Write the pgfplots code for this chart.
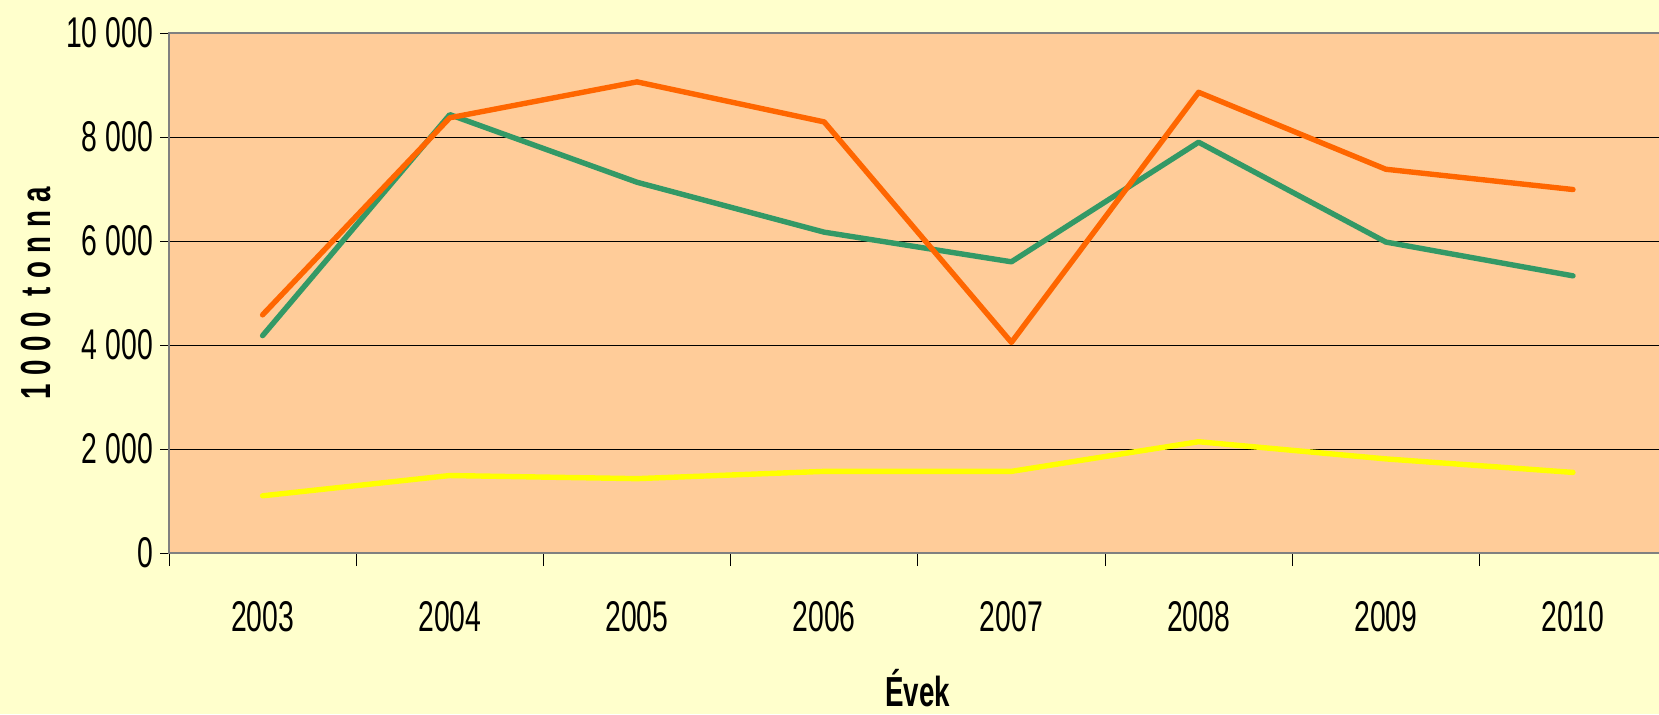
\documentclass[border=0pt]{standalone}
\usepackage{fontspec}
\setmainfont[FakeStretch=0.66]{Liberation Sans}
\usepackage{pgfplots}
\pgfplotsset{compat=1.18}
\definecolor{bg}{HTML}{FFFFCC}
\definecolor{plotbg}{HTML}{FFCC99}
\definecolor{lorange}{HTML}{FF6600}
\definecolor{lgreen}{HTML}{339966}
\definecolor{lyellow}{HTML}{FFFF00}
\definecolor{axgray}{HTML}{808080}
\begin{document}
\begin{tikzpicture}
\fill[bg] (0,0) rectangle (829.5pt,357pt);
\path[use as bounding box] (0,0) rectangle (829.5pt,357pt);
\clip (0,0) rectangle (829.5pt,357pt);
\begin{axis}[
  at={(84.5pt,80.5pt)}, anchor=south west, scale only axis,
  width=748.8pt, height=260pt,
  xmin=-0.5, xmax=7.5, ymin=0, ymax=10000,
  axis background/.style={fill=plotbg},
  xtick={0,1,2,3,4,5,6,7},
  xticklabels={2003,2004,2005,2006,2007,2008,2009,2010},
  minor xtick={-0.5,0.5,1.5,2.5,3.5,4.5,5.5,6.5,7.5},
  ytick={0,2000,4000,6000,8000,10000},
  yticklabels={0,2 000,4 000,6 000,8 000,10 000},
  scaled y ticks=false,
  tick pos=left,
  tick align=outside,
  major tick length=4.5pt, minor tick length=6.5pt,
  major x tick style={draw=none},
  tick style={black, line width=0.5pt},
  axis line style={axgray, line width=1pt},
  ymajorgrids, major grid style={black, line width=0.5pt},
  ticklabel style={font=\fontsize{21.5pt}{25pt}\selectfont},
  xticklabel style={yshift=-16pt},
  ylabel={1000 tonna},
  ylabel style={font=\bfseries\fontsize{21pt}{25pt}\selectfont\addfontfeatures{LetterSpace=20}, at={(axis description cs:-0.0888,0.5)}, anchor=center},
  xlabel={Évek},
  xlabel style={font=\bfseries\fontsize{21pt}{25pt}\selectfont, at={(axis description cs:0.5,-0.296)}, anchor=base},
]
\addplot[lyellow, line width=2.7pt, line cap=round, line join=round] coordinates {
(0,1100) (1,1490) (2,1430) (3,1570) (4,1570) (5,2140) (6,1810) (7,1550)};
\addplot[lgreen, line width=2.7pt, line cap=round, line join=round] coordinates {
(0,4180) (1,8430) (2,7130) (3,6170) (4,5600) (5,7900) (6,5980) (7,5330)};
\addplot[lorange, line width=2.7pt, line cap=round, line join=round] coordinates {
(0,4580) (1,8370) (2,9060) (3,8290) (4,4050) (5,8860) (6,7380) (7,6990)};
\end{axis}
\end{tikzpicture}
\end{document}
